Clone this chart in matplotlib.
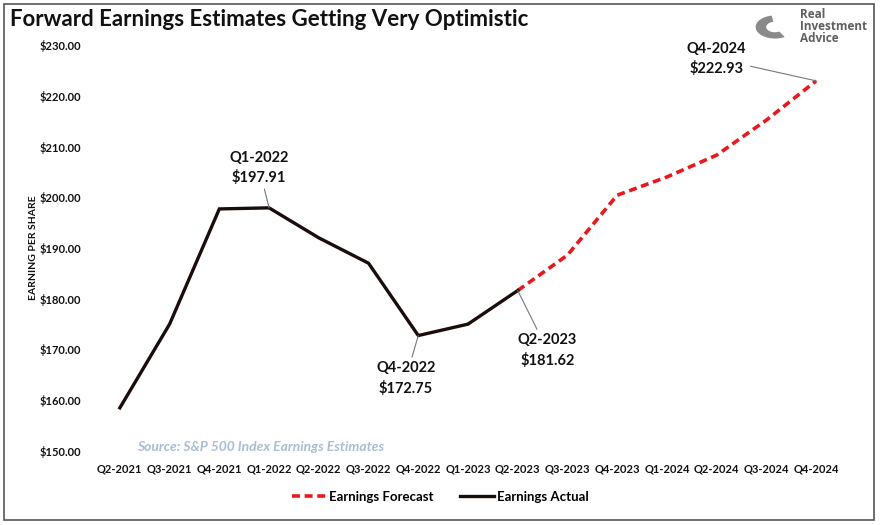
import matplotlib
matplotlib.use("Agg")
import matplotlib.pyplot as plt
from matplotlib.patches import Rectangle, Wedge

quarters = ["Q2-2021", "Q3-2021", "Q4-2021", "Q1-2022", "Q2-2022", "Q3-2022", "Q4-2022",
            "Q1-2023", "Q2-2023", "Q3-2023", "Q4-2023", "Q1-2024", "Q2-2024", "Q3-2024", "Q4-2024"]
actual = [158.5, 175.0, 197.7, 197.91, 192.0, 187.0, 172.75, 175.0, 181.62]
forecast = [181.62, 188.6, 200.4, 204.0, 208.3, 215.2, 222.93]
forecast_start = 8
yticks = [150, 160, 170, 180, 190, 200, 210, 220, 230]

FONT = "Lato"
plt.rcParams["font.family"] = [FONT, "DejaVu Sans"]

fig = plt.figure(figsize=(8.8, 5.25), dpi=100)
fig.patch.set_facecolor("white")
fig.add_artist(Rectangle((4/880, 1 - 520/525), 870/880, 516/525, transform=fig.transFigure,
                         fill=False, edgecolor="#555555", linewidth=1.2))

ax = fig.add_axes([95/880, 1 - 451/525, 746/880, 406/525])
x_act = list(range(len(actual)))
x_fc = list(range(forecast_start, forecast_start + len(forecast)))
ax.plot(x_act, actual, color="#1c0b0b", linewidth=2.4, solid_joinstyle="miter",
        label="Earnings Actual", zorder=3)
ax.plot(x_fc, forecast, color="#e8191c", linewidth=2.6, linestyle=(0, (2.2, 1.3)),
        label="Earnings Forecast", zorder=2)

ax.set_xlim(-0.5, len(quarters) - 0.5)
ax.set_ylim(150, 230)
ax.set_xticks(range(len(quarters)))
ax.set_xticklabels(quarters, fontsize=8, fontweight="bold", color="#111111")
ax.set_yticks(yticks)
ax.set_yticklabels([f"${v:.2f}" for v in yticks], fontsize=8, fontweight="bold", color="#111111")
ax.tick_params(axis="both", length=0)
ax.tick_params(axis="x", pad=9)
ax.tick_params(axis="y", pad=10)
for s in ax.spines.values():
    s.set_visible(False)
ax.set_ylabel("EARNING PER SHARE", fontsize=7.5, fontweight="bold", color="#111111", labelpad=1)

def annotate(idx, val, tx, ty):
    ax.annotate(f"{quarters[idx]}\n${val:.2f}", xy=(idx, val), xytext=(tx, ty),
                textcoords="data", ha="center", va="center", fontsize=10.5, fontweight="bold",
                linespacing=1.45, color="#111111",
                arrowprops=dict(arrowstyle="-", color="#777777", linewidth=0.8,
                                shrinkA=1, shrinkB=0))

annotate(3, actual[3], 2.8, 205.8)
annotate(6, actual[6], 5.75, 164.3)
annotate(8, actual[8], 8.6, 169.8)
annotate(14, forecast[-1], 12.0, 227.3)

ax.text(0.35, 150.8, "Source: S&P 500 Index Earnings Estimates", fontsize=10, style="italic",
        fontweight="bold", color="#a9bdd6", ha="left", va="center")

fig.text(10/880, 1 - 19/525, "Forward Earnings Estimates Getting Very Optimistic", fontsize=16,
         fontweight="bold", color="#111111", ha="left", va="center")
# logo
fig.add_artist(Wedge((775/880, 1 - 27/525), 0.022, 100, 300, width=0.012,
                     transform=fig.transFigure, facecolor="#8a8a8a", edgecolor="none"))
fig.text(800/880, 1 - 26/525, "Real\nInvestment\nAdvice", fontsize=8.5, fontweight="bold",
         family=["Open Sans", "DejaVu Sans"],
         color="#5f5f5f", ha="left", va="center", linespacing=0.9)

handles, labels = ax.get_legend_handles_labels()
leg = fig.legend(handles[::-1], labels[::-1], loc="center", bbox_to_anchor=(440/880, 1 - 497/525),
                 ncol=2, frameon=False, fontsize=9.5, handlelength=2.6, columnspacing=2.0,
                 handletextpad=0.2)
for t in leg.get_texts():
    t.set_fontweight("bold")

fig.savefig("out.png", dpi=100, facecolor="white")
